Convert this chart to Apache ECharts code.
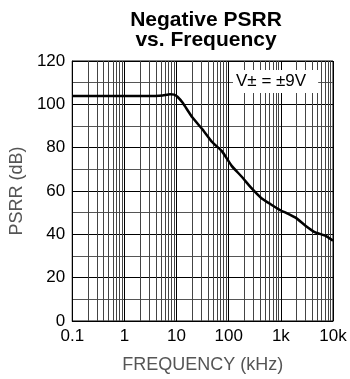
<!DOCTYPE html>
<html>
<head>
<meta charset="utf-8">
<script src="https://cdn.jsdelivr.net/npm/echarts@6/dist/echarts.min.js"></script>
<style>
  html, body { margin: 0; padding: 0; background: #fff; }
  #main { width: 350px; height: 379px; }
</style>
</head>
<body>
<div id="main"></div>
<script>
// frequency in kHz, PSRR in dB
const freq = [0.1, 0.3, 1, 3, 5.4, 7.5, 9, 10.4, 13, 20, 31, 48, 74, 114, 176, 271, 419, 647, 1000, 1243, 1918, 2963, 4575, 7066, 10000];
const psrr = [103.8, 103.8, 103.8, 103.8, 104.1, 104.6, 104.5, 103.5, 100.8, 94, 88.6, 82.6, 78.4, 71.6, 66.7, 61.4, 56.8, 53.8, 51, 50, 47.7, 44, 40.9, 39.4, 37.1];
const decades = [0.1, 1, 10, 100, 1000];
const minorSteps = [2, 3, 4, 5, 6, 7, 8, 9];
const xLabels = { 0.1: "0.1", 1: "1", 10: "10", 100: "100", 1000: "1k", 10000: "10k" };

const chart = echarts.init(document.getElementById("main"));

// minor vertical grid lines at 2..9 of each decade
const minorLines = [];
decades.forEach(function(d) {
  minorSteps.forEach(function(k) {
    minorLines.push({ xAxis: +(d * k).toPrecision(3) });
  });
});

const option = {
  animation: false,
  title: {
    text: "Negative PSRR\nvs. Frequency",
    left: 201,
    textAlign: "center",
    top: 5,
    textStyle: {
      fontFamily: "Liberation Sans",
      fontWeight: "bold",
      fontSize: 21,
      lineHeight: 20,
      color: "#000"
    }
  },
  grid: {
    left: 68,
    right: 17,
    top: 61,
    bottom: 54,
    show: true,
    borderColor: "#000",
    borderWidth: 1
  },
  xAxis: {
    type: "log",
    logBase: 10,
    min: 0.1,
    max: 10000,
    name: "FREQUENCY (kHz)",
    nameLocation: "middle",
    nameGap: 35,
    nameTextStyle: { fontFamily: "Liberation Sans", fontSize: 18, color: "#555" },
    axisLine: { show: true, lineStyle: { color: "#000" } },
    axisTick: { show: false },
    axisLabel: {
      fontFamily: "Liberation Sans",
      fontSize: 17,
      color: "#000",
      margin: 7,
      formatter: function(v) { return xLabels[v] || ""; }
    },
    splitLine: { show: true, lineStyle: { color: "#000", width: 1 } }
  },
  yAxis: {
    type: "value",
    min: 0,
    max: 120,
    interval: 20,
    name: "PSRR (dB)",
    nameLocation: "middle",
    nameGap: 42,
    nameTextStyle: { fontFamily: "Liberation Sans", fontSize: 18, color: "#555" },
    axisLine: { show: true, lineStyle: { color: "#000" } },
    axisTick: { show: false },
    axisLabel: { fontFamily: "Liberation Sans", fontSize: 17, color: "#000", margin: 7 },
    splitLine: { show: true, lineStyle: { color: "#000", width: 1 } },
    minorTick: { show: false, splitNumber: 2 },
    minorSplitLine: { show: true, lineStyle: { color: "#555", width: 1 } }
  },
  graphic: [
    {
      type: "text",
      left: 233,
      top: 70,
      z: 10,
      style: {
        text: "V\u00b1 = \u00b19V",
        fontFamily: "Liberation Sans",
        fontSize: 17,
        fill: "#000",
        backgroundColor: "#fff",
        padding: [3, 12, 3, 3]
      }
    }
  ],
  series: [
    {
      type: "line",
      data: [],
      z: 1,
      silent: true,
      markLine: {
        silent: true,
        symbol: ["none", "none"],
        label: { show: false },
        lineStyle: { color: "#444", width: 1, type: "solid" },
        data: minorLines
      }
    },
    {
      type: "line",
      z: 5,
      data: freq.map(function(f, i) { return [f, psrr[i]]; }),
      showSymbol: false,
      smooth: 0.15,
      lineStyle: { color: "#000", width: 2.5 }
    }
  ]
};
chart.setOption(option);
</script>
</body>
</html>
